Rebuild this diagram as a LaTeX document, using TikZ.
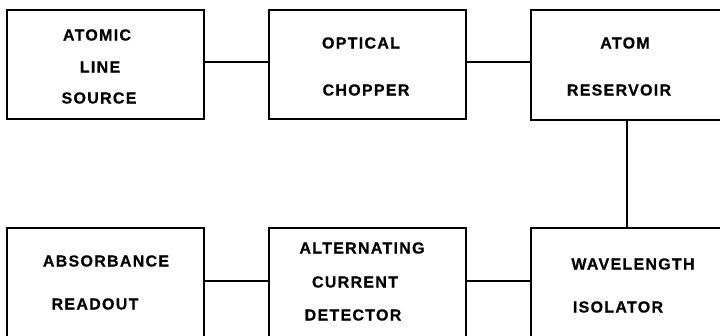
\documentclass[tikz,border=0pt]{standalone}
\usepackage{fontspec}
\newfontfamily\blockfont[LetterSpace=8,FakeBold=0.6]{Liberation Sans}
\begin{document}
\begin{tikzpicture}[x=1pt,y=-1pt, every node/.style={font=\blockfont\bfseries\fontsize{16}{16}\selectfont}]
  \tikzstyle{blk}=[draw,line width=2pt,minimum width=197pt,minimum height=109pt,inner sep=0pt]
  \tikzstyle{lbl}=[inner sep=0pt,anchor=center]
  \useasboundingbox (0,0) rectangle (720,335);
  \clip (0,0) rectangle (720,335);
  % top row
  \node[blk] (src) at (105.5,64.5) {};
  \node[blk] (chop) at (367,64.5) {};
  \node[blk,minimum width=199pt,minimum height=110pt] (res) at (630.5,65) {};
  % bottom row
  \node[blk,minimum height=117pt] (read) at (105.5,286.5) {};
  \node[blk,minimum height=117pt] (det) at (367,286.5) {};
  \node[blk,minimum width=199pt,minimum height=117pt] (iso) at (630.5,286.5) {};
  % labels
  \node[lbl] (src1) at (97,35) {ATOMIC};
  \node[lbl] (src2) at (100,67) {LINE};
  \node[lbl] (src3) at (99,98) {SOURCE};
  \node[lbl] (chop1) at (361,43) {OPTICAL};
  \node[lbl] (chop2) at (366,90) {CHOPPER};
  \node[lbl] (res1) at (625,43) {ATOM};
  \node[lbl] (res2) at (619,90) {RESERVOIR};
  \node[lbl] (read1) at (106,261) {ABSORBANCE};
  \node[lbl] (read2) at (95,304) {READOUT};
  \node[lbl] (det1) at (362,248) {ALTERNATING};
  \node[lbl] (det2) at (355,282) {CURRENT};
  \node[lbl] (det3) at (353,315) {DETECTOR};
  \node[lbl] (iso1) at (633,264) {WAVELENGTH};
  \node[lbl] (iso2) at (618,307) {ISOLATOR};
  % connectors
  \draw[line width=2pt] ([yshift=2.5pt]src.east) -- ([yshift=2.5pt]chop.west);
  \draw[line width=2pt] ([yshift=2.5pt]chop.east) -- ([yshift=3pt]res.west);
  \draw[line width=2pt] ([xshift=-3.5pt]res.south) -- ([xshift=-3.5pt]iso.north);
  \draw[line width=2pt] ([yshift=5.5pt]read.east) -- ([yshift=5.5pt]det.west);
  \draw[line width=2pt] ([yshift=5.5pt]det.east) -- ([yshift=5.5pt]iso.west);
\end{tikzpicture}
\end{document}
